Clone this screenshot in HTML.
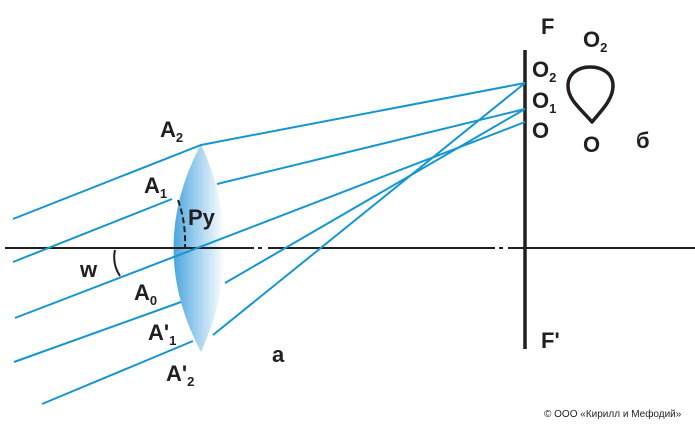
<!DOCTYPE html>
<html><head><meta charset="utf-8"><style>
html,body{margin:0;padding:0;background:#fff;}
svg{display:block;}
text{font-family:"Liberation Sans",Arial,sans-serif;font-weight:bold;fill:#231f20;}
</style></head><body>
<svg width="695" height="426" viewBox="0 0 695 426" xmlns="http://www.w3.org/2000/svg">
<defs>
<linearGradient id="lg" x1="0" y1="0" x2="1" y2="0">
<stop offset="0" stop-color="#4aa6de"/>
<stop offset="0.5" stop-color="#a8d4f0"/>
<stop offset="1" stop-color="#ffffff"/>
</linearGradient>
</defs>
<path d="M201,144 Q146,248 201,352 Q248,248 201,144 Z" fill="url(#lg)"/>
<g stroke="#231f20" stroke-width="2">
<line x1="5" y1="248" x2="254" y2="248"/>
<line x1="258" y1="248" x2="262" y2="248"/>
<line x1="268" y1="248" x2="495" y2="248"/>
<line x1="499" y1="248" x2="503" y2="248"/>
<line x1="508" y1="248" x2="695" y2="248"/>
</g>
<line x1="525" y1="50" x2="525" y2="349" stroke="#231f20" stroke-width="3.5"/>
<g stroke="#1596d3" stroke-width="2" fill="none">
<polyline points="13,219 201,145 525,83"/>
<line x1="13" y1="262" x2="172" y2="199"/>
<line x1="217" y1="184" x2="525" y2="109"/>
<line x1="15" y1="318" x2="525" y2="122"/>
<line x1="14" y1="362" x2="181" y2="302"/>
<line x1="225" y1="283" x2="525" y2="109"/>
<line x1="42" y1="404" x2="193" y2="341"/>
<line x1="213" y1="335" x2="525" y2="83"/>
</g>
<path d="M115,250 Q112,264 120,276" stroke="#231f20" stroke-width="2" fill="none"/>
<path d="M178,200 Q186,222 185,248" stroke="#231f20" stroke-width="2" fill="none" stroke-dasharray="6,3"/>
<path d="M592,122 C582,110 568,100 568,86 C568,73 579,67 590,67 C602,67 613,73 613,86 C613,100 600,112 592,122 Z" stroke="#231f20" stroke-width="3.5" fill="none" stroke-linejoin="round"/>
<g font-size="22">
<text x="160" y="137">A<tspan font-size="13" dy="5">2</tspan></text>
<text x="144" y="193">A<tspan font-size="13" dy="5">1</tspan></text>
<text x="188" y="225">Py</text>
<text x="80" y="277">w</text>
<text x="134" y="300">A<tspan font-size="13" dy="5">0</tspan></text>
<text x="148" y="340">A'<tspan font-size="13" dy="5">1</tspan></text>
<text x="166" y="381">A'<tspan font-size="13" dy="5">2</tspan></text>
<text x="272" y="362">a</text>
<text x="541" y="34">F</text>
<text x="532" y="77">O<tspan font-size="13" dy="5">2</tspan></text>
<text x="532" y="108">O<tspan font-size="13" dy="5">1</tspan></text>
<text x="532" y="138">O</text>
<text x="583" y="47">O<tspan font-size="13" dy="5">2</tspan></text>
<text x="583" y="152">O</text>
<text x="636" y="148">б</text>
<text x="541" y="348">F'</text>
</g>
<text x="544" y="417" font-size="10" style="font-weight:normal">© ООО «Кирилл и Мефодий»</text>
</svg>
</body></html>
